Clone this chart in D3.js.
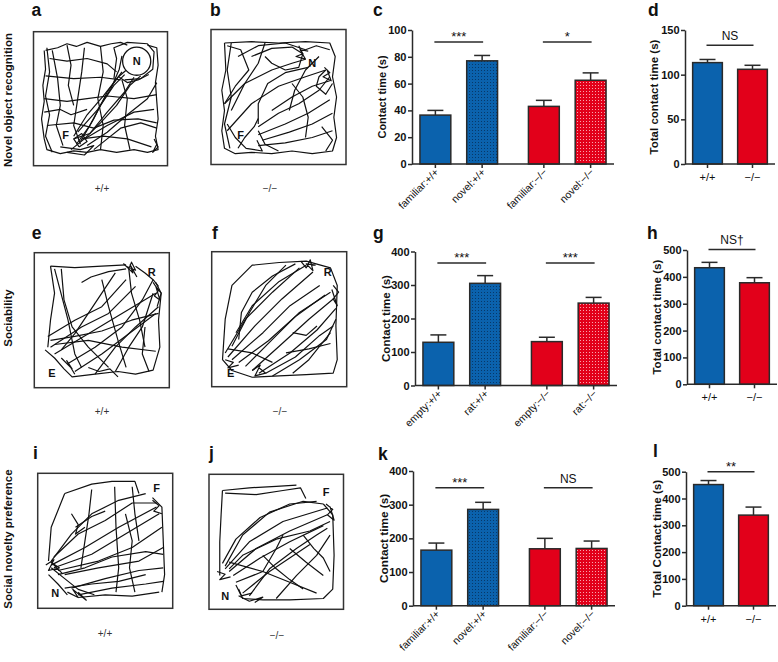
<!DOCTYPE html>
<html><head><meta charset="utf-8">
<script src="https://cdn.jsdelivr.net/npm/d3@7"></script>
<style>body{margin:0;background:#fff}svg{display:block;font-family:"Liberation Sans",Arial,sans-serif}</style>
</head><body><svg id="fig" width="778" height="662"></svg>
<script>
// ---------- DATA ----------
const norCats = ["familiar:+/+", "novel:+/+", "familiar:−/−", "novel:−/−"];
const norMeans = [36.5, 77, 43, 62.5];
const norSem = [3.5, 4, 4.5, 5.5];
const norTicks = [0, 20, 40, 60, 80, 100];
const norSig = [[0, 1, "***", 91], [2, 3, "*", 91]];

const norTotCats = ["+/+", "−/−"];
const norTotMeans = [113.5, 106];
const norTotSem = [3.5, 4.5];
const norTotTicks = [0, 50, 100, 150];
const norTotSig = [[0, 1, "NS", 133]];

const socCats = ["empty:+/+", "rat:+/+", "empty:−/−", "rat:−/−"];
const socMeans = [129, 305, 131, 246];
const socSem = [22, 23, 13, 17];
const socTicks = [0, 100, 200, 300, 400];
const socSig = [[0, 1, "***", 366], [2, 3, "***", 366]];

const socTotCats = ["+/+", "−/−"];
const socTotMeans = [434, 378];
const socTotSem = [20, 19];
const socTotTicks = [0, 100, 200, 300, 400, 500];
const socTotSig = [[0, 1, "NS†", 502]];

const snpCats = ["familiar:+/+", "novel:+/+", "familiar:−/−", "novel:−/−"];
const snpMeans = [165, 286, 169, 170];
const snpSem = [21, 21, 31, 22];
const snpTicks = [0, 100, 200, 300, 400];
const snpSig = [[0, 1, "***", 350], [2, 3, "NS", 350]];

const snpTotCats = ["+/+", "−/−"];
const snpTotMeans = [452, 338];
const snpTotSem = [15, 30];
const snpTotTicks = [0, 100, 200, 300, 400, 500];
const snpTotSig = [[0, 1, "**", 500]];

const rowLabels = ["Novel object recognition", "Sociability", "Social novelty preference"];
const genotypes = ["+/+", "−/−"];

// tracking traces (0-100 arena units)
const trackA = [
 [[9,14],[18,12],[25,9],[32,11],[40,8],[50,11],[58,9],[65,8],[70,10]],
 [[85,10],[92,12],[93,25],[91,38],[92,52],[93,65],[91,78],[93,88],[85,90],[75,88],[62,90],[50,88],[40,90],[30,89],[20,91],[10,88],[8,80],[6,65],[8,52],[7,40],[9,28],[8,14]],
 [[10,12],[12,30],[9,48],[12,62],[9,78],[14,90]],
 [[14,14],[18,35],[20,55],[17,70],[22,85]],
 [[9,33],[30,35],[50,34],[65,36]],
 [[8,50],[25,52],[40,50],[55,48],[75,50],[92,47]],
 [[10,70],[30,68],[45,72],[60,66],[78,65],[92,68]],
 [[35,82],[45,65],[55,45],[66,30]],
 [[32,84],[42,70],[50,55],[60,40],[68,32]],
 [[38,80],[50,68],[62,55],[72,40],[80,33]],
 [[30,78],[40,62],[52,48],[63,34],[70,28]],
 [[40,85],[55,75],[70,62],[85,50],[92,38]],
 [[36,80],[52,78],[70,80],[88,86]],
 [[33,75],[48,58],[58,42],[64,28],[66,18]],
 [[28,88],[38,80],[55,70],[75,60],[90,58]],
 [[20,86],[35,88],[45,85],[38,92],[25,90]],
 [[38,12],[36,30],[33,50],[30,70],[35,84]],
 [[60,35],[62,20],[60,12],[70,8],[85,9],[90,15],[89,28],[80,35],[68,36]],
 [[64,34],[70,38],[78,36],[86,32]],
 [[90,80],[93,86],[89,90],[92,84]],
 [[12,20],[25,22],[40,20],[55,24],[62,30]],
 [[8,60],[20,58],[28,62],[40,58]],
 [[45,88],[55,80],[65,72],[80,68],[92,72]],
 [[30,80],[42,76],[55,60],[68,45],[75,34]],
 [[25,10],[28,25],[26,40],[30,55]],
 [[50,11],[52,30],[48,50],[52,70],[50,88]],
 [[66,36],[70,50],[68,70],[72,88]],
 [[34,86],[30,80],[36,76],[40,82],[34,86]]
];
const trackB = [
 [[10,10],[30,9],[50,10],[70,9],[88,10],[92,20],[90,35],[93,50],[91,65],[93,80],[90,90],[75,92],[60,90],[45,92],[30,91],[18,92],[10,88],[8,75],[10,60],[8,45],[11,30],[10,10]],
 [[12,12],[22,15],[28,30],[18,42],[10,55]],
 [[30,20],[45,14],[60,13],[68,18],[65,28],[55,30],[45,25],[40,20]],
 [[10,55],[25,40],[45,30],[60,25],[70,22]],
 [[12,75],[30,55],[50,42],[70,35],[85,30]],
 [[35,72],[50,62],[65,55],[80,45],[88,35]],
 [[35,78],[55,70],[72,62],[88,52]],
 [[38,82],[58,76],[75,70],[90,62]],
 [[35,86],[55,84],[75,80],[90,75]],
 [[35,70],[35,55],[42,40],[55,32],[72,28]],
 [[20,20],[35,12],[55,10],[70,15],[78,12],[88,15]],
 [[85,30],[80,35],[78,42],[85,48],[90,40]],
 [[82,72],[90,82],[85,90]],
 [[65,12],[68,18],[63,20],[70,22],[66,15],[72,16]],
 [[84,28],[88,32],[83,35],[89,38],[86,30]],
 [[12,70],[18,80],[26,88],[38,90],[34,82]],
 [[15,10],[12,30],[15,50],[10,70],[14,88]],
 [[40,10],[35,25],[25,40],[15,60]],
 [[35,75],[40,85],[50,90]],
 [[60,40],[68,50],[72,65],[70,80]],
 [[80,20],[70,30],[62,45],[58,60]],
 [[45,60],[60,50],[75,42],[88,38]],
 [[20,88],[25,80],[32,72],[35,66]]
];
const trackE = [
 [[12,10],[30,11],[50,10],[68,9]],
 [[12,10],[15,30],[12,50],[10,70]],
 [[8,72],[15,78],[22,86],[28,92],[45,90],[62,88],[75,90],[88,87],[93,70],[92,50],[94,30],[90,22]],
 [[15,12],[25,50],[30,75],[35,85]],
 [[10,62],[30,50],[50,40],[68,20]],
 [[12,70],[35,55],[55,45],[75,25]],
 [[15,75],[40,60],[60,48],[90,30]],
 [[25,82],[45,70],[65,55],[80,35],[88,20]],
 [[30,88],[50,75],[70,60],[90,45]],
 [[45,90],[60,70],[75,55],[92,40]],
 [[60,88],[70,70],[80,55],[88,30]],
 [[15,68],[40,65],[65,70],[90,73]],
 [[50,20],[55,40],[62,65],[68,85]],
 [[35,22],[42,18],[55,14],[68,12]],
 [[66,8],[70,12],[72,7],[75,13],[68,10],[73,15],[71,9],[76,18]],
 [[88,22],[92,28],[89,32],[93,35],[90,25],[94,30],[91,40]],
 [[82,55],[80,75],[85,88]],
 [[20,78],[28,86],[24,80],[30,90]],
 [[20,12],[22,35],[28,55],[40,70],[55,85]],
 [[70,12],[72,30],[78,50],[82,70]],
 [[12,65],[30,62],[50,58],[72,50],[92,45]],
 [[60,15],[50,30],[40,45],[30,60],[20,72]],
 [[75,10],[82,15],[88,20],[92,25]],
 [[40,85],[48,88],[56,86],[62,92]]
];
const trackF = [
 [[8,80],[10,50],[15,25],[30,10],[50,8],[70,7],[88,12],[93,25],[92,55],[93,80],[90,90],[70,91],[50,92],[30,93],[15,88],[8,80]],
 [[10,75],[25,50],[45,30],[65,12]],
 [[12,78],[32,55],[52,35],[75,15]],
 [[15,80],[38,60],[58,40],[80,25]],
 [[25,85],[45,65],[65,45],[88,30]],
 [[30,88],[50,70],[72,50],[90,35]],
 [[35,90],[58,75],[78,58],[92,42]],
 [[45,92],[65,80],[85,65],[92,50]],
 [[15,70],[28,45],[40,25],[55,10]],
 [[20,65],[22,45],[30,30],[45,18],[62,9]],
 [[55,75],[72,72],[88,68]],
 [[66,7],[70,12],[73,6],[75,14],[70,9],[77,10]],
 [[90,25],[94,30],[90,35],[93,40],[89,28]],
 [[30,88],[36,84],[32,92],[40,90],[35,86]],
 [[10,80],[16,82],[12,86],[20,84]],
 [[18,60],[30,40],[50,22],[70,10]],
 [[20,82],[42,66],[62,48],[84,32]],
 [[40,90],[62,78],[80,62],[90,55]],
 [[12,72],[30,75],[45,82]],
 [[60,60],[70,62],[78,55]],
 [[88,60],[80,70],[72,80],[60,90]]
];
const trackI = [
 [[20,15],[40,8],[55,6],[72,6],[75,15]],
 [[85,18],[92,25],[93,50],[94,75],[92,88]],
 [[30,92],[50,90],[70,91],[90,88]],
 [[8,65],[10,40],[20,15]],
 [[10,68],[35,55],[60,40],[88,25]],
 [[12,70],[40,60],[65,45],[90,30]],
 [[15,72],[45,65],[70,55],[92,40]],
 [[20,75],[45,70],[75,65],[93,55]],
 [[25,85],[50,78],[75,72],[93,70]],
 [[30,90],[55,85],[80,82],[93,80]],
 [[10,65],[25,45],[40,30],[60,20],[80,15]],
 [[57,10],[58,40],[60,70],[58,88]],
 [[70,10],[72,30],[75,50]],
 [[25,30],[30,38],[28,45],[35,40]],
 [[6,68],[12,64],[8,72],[16,70],[10,66],[18,74]],
 [[22,88],[30,92],[26,86],[36,94],[30,88]],
 [[85,20],[90,24],[86,28],[92,30]],
 [[8,75],[15,82],[22,90]],
 [[12,62],[30,45],[50,35],[70,22],[88,22]],
 [[15,75],[35,70],[55,62],[80,58],[93,60]],
 [[40,12],[38,30],[35,50],[32,70]],
 [[20,85],[40,82],[60,80],[80,75]],
 [[65,30],[70,50],[68,70],[72,88]],
 [[10,70],[20,78],[30,86],[42,90]],
 [[28,40],[40,32],[50,28]]
];
const trackJ = [
 [[10,12],[30,10],[50,9],[65,8]],
 [[85,22],[92,30],[93,60],[92,85],[85,92],[60,93],[40,93],[25,92],[22,85]],
 [[8,75],[8,50],[9,30],[10,12]],
 [[12,68],[25,45],[45,28],[70,20],[85,22]],
 [[12,70],[30,50],[55,35],[88,25]],
 [[15,72],[35,55],[60,42],[88,30]],
 [[15,70],[25,60],[50,48],[75,42],[90,35]],
 [[20,80],[40,72],[50,55],[55,45]],
 [[30,90],[45,70],[65,55],[80,45],[88,40]],
 [[50,92],[65,75],[80,60],[90,45]],
 [[15,65],[40,72],[60,80],[80,88]],
 [[60,55],[72,65],[85,75]],
 [[12,14],[35,15],[55,12],[68,10],[72,18]],
 [[87,22],[92,26],[88,30],[93,34],[90,24]],
 [[6,72],[12,74],[8,78],[16,76]],
 [[22,90],[30,94],[40,91],[34,95]],
 [[10,66],[20,48],[38,32],[60,22],[80,20]],
 [[18,75],[38,62],[60,50],[85,38]],
 [[25,88],[35,80],[45,72],[60,62],[75,52]],
 [[40,60],[50,70],[60,78],[70,85]],
 [[70,45],[78,55],[85,62],[90,72]],
 [[20,82],[24,90],[32,88]]
];

// ---------- DRAW ----------
const svg = d3.select("#fig");
const BLUE = "#0b62ad", RED = "#e2001a", STROKE = "#2a2a2a";

const defs = svg.append("defs");
function dotPattern(id, bg, dot) {
  const p = defs.append("pattern").attr("id", id).attr("patternUnits", "userSpaceOnUse")
    .attr("width", 3).attr("height", 3);
  p.append("rect").attr("width", 3).attr("height", 3).attr("fill", bg);
  p.append("rect").attr("x", 1).attr("y", 1).attr("width", 1).attr("height", 1).attr("fill", dot);
}
dotPattern("dotBlue", BLUE, "#07396a");
dotPattern("dotRed", RED, "#f7a5ad");

function letter(t, x, y) {
  svg.append("text").attr("x", x).attr("y", y).attr("font-size", 17.5).attr("font-weight", "bold")
    .attr("fill", "#111").text(t);
}

function barPanel(o) {
  const n = o.cats.length;
  const pos = i => i + (n === 4 && i >= 2 ? 0.32 : 0);
  const xMax = n === 4 ? 3.82 : 1.5;
  const x = d3.scaleLinear().domain([-0.5, xMax]).range([o.ax, o.axEnd]);
  const y = d3.scaleLinear().domain([0, o.ticks[o.ticks.length - 1]]).range([o.y0, o.yTop]);
  const bw = (x(1) - x(0)) * 0.66;
  const g = svg.append("g");
  const isPlus = c => c.indexOf("+/+") >= 0;

  o.cats.forEach((c, i) => {
    const cx = x(pos(i));
    const top = y(o.means[i] + o.sem[i]);
    g.append("line").attr("x1", cx).attr("x2", cx).attr("y1", y(o.means[i])).attr("y2", top)
      .attr("stroke", STROKE).attr("stroke-width", 1.5);
    g.append("line").attr("x1", cx - 8).attr("x2", cx + 8).attr("y1", top).attr("y2", top)
      .attr("stroke", STROKE).attr("stroke-width", 1.5);
  });
  g.selectAll("rect.bar").data(o.cats).join("rect").attr("class", "bar")
    .attr("x", (c, i) => x(pos(i)) - bw / 2).attr("width", bw)
    .attr("y", (c, i) => y(o.means[i])).attr("height", (c, i) => o.y0 - y(o.means[i]))
    .attr("fill", (c, i) => {
      const pat = n === 4 && i % 2 === 1;
      if (isPlus(c)) return pat ? "url(#dotBlue)" : BLUE;
      return pat ? "url(#dotRed)" : RED;
    })
    .attr("stroke", STROKE).attr("stroke-width", 1.5);

  const ya = g.append("g").attr("transform", `translate(${o.ax},0)`)
    .call(d3.axisLeft(y).tickValues(o.ticks).tickSize(4).tickSizeOuter(0).tickPadding(1.5));
  ya.select(".domain").attr("stroke", STROKE).attr("stroke-width", 1.5);
  ya.selectAll(".tick line").attr("stroke", STROKE).attr("stroke-width", 1.5);
  ya.selectAll(".tick text").attr("font-size", 11).attr("font-weight", "bold").attr("fill", "#111")
    .attr("font-family", "'Liberation Sans',Arial,sans-serif");
  g.append("line").attr("x1", o.ax).attr("x2", o.axEnd).attr("y1", o.y0).attr("y2", o.y0)
    .attr("stroke", STROKE).attr("stroke-width", 1.5);
  o.cats.forEach((c, i) => {
    const cx = x(pos(i));
    g.append("line").attr("x1", cx).attr("x2", cx).attr("y1", o.y0).attr("y2", o.y0 + 4)
      .attr("stroke", STROKE).attr("stroke-width", 1.5);
    if (n === 4) {
      g.append("text").attr("transform", `translate(${cx + 4},${o.y0 + 9}) rotate(-45)`)
        .attr("text-anchor", "end").attr("font-size", 10.5).attr("fill", "#111").text(c);
    } else {
      g.append("text").attr("x", cx).attr("y", o.y0 + 17).attr("text-anchor", "middle")
        .attr("font-size", 11).attr("fill", "#111").text(c);
    }
  });
  o.sig.forEach(([a, b, lab, lev]) => {
    const ly = y(lev);
    g.append("line").attr("x1", x(pos(a)) - 1).attr("x2", x(pos(b)) + 1).attr("y1", ly).attr("y2", ly)
      .attr("stroke", STROKE).attr("stroke-width", 1.5);
    const star = lab.indexOf("*") >= 0;
    g.append("text").attr("x", (x(pos(a)) + x(pos(b))) / 2).attr("y", star ? ly - 1 : ly - 5)
      .attr("text-anchor", "middle").attr("font-size", star ? 13 : 12).attr("fill", "#111").text(lab);
  });
  g.append("text").attr("transform", `translate(${o.ax - o.titleOff},${(o.y0 + o.yTop) / 2}) rotate(-90)`)
    .attr("text-anchor", "middle").attr("dominant-baseline", "central")
    .attr("font-size", o.titleSize).attr("font-weight", "bold").attr("fill", "#111").text(o.title);
}

barPanel({cats: norCats, means: norMeans, sem: norSem, ticks: norTicks, sig: norSig,
  ax: 412, axEnd: 614, y0: 164, yTop: 30, title: "Contact time (s)", titleOff: 30, titleSize: 11});
barPanel({cats: norTotCats, means: norTotMeans, sem: norTotSem, ticks: norTotTicks, sig: norTotSig,
  ax: 685, axEnd: 775, y0: 164, yTop: 30, title: "Total contact time (s)", titleOff: 31, titleSize: 11.5});
barPanel({cats: socCats, means: socMeans, sem: socSem, ticks: socTicks, sig: socSig,
  ax: 415, axEnd: 617, y0: 385.5, yTop: 251.5, title: "Contact time (s)", titleOff: 29, titleSize: 11.5});
barPanel({cats: socTotCats, means: socTotMeans, sem: socTotSem, ticks: socTotTicks, sig: socTotSig,
  ax: 687, axEnd: 777, y0: 384.3, yTop: 250, title: "Total contact time (s)", titleOff: 30, titleSize: 11.5});
barPanel({cats: snpCats, means: snpMeans, sem: snpSem, ticks: snpTicks, sig: snpSig,
  ax: 413, axEnd: 615, y0: 605.7, yTop: 471, title: "Contact time (s)", titleOff: 29, titleSize: 11.8});
barPanel({cats: snpTotCats, means: snpTotMeans, sem: snpTotSem, ticks: snpTotTicks, sig: snpTotSig,
  ax: 686, axEnd: 776, y0: 605.7, yTop: 471.7, title: "Total Contact time (s)", titleOff: 30, titleSize: 11.6});

letter("c", 373, 15.5); letter("d", 648, 16);
letter("g", 373, 239); letter("h", 647, 239);
letter("k", 378, 460); letter("l", 653, 457);

function trackPanel(o) {
  const sx = d3.scaleLinear().domain([0, 100]).range([o.x, o.x + o.w]);
  const sy = d3.scaleLinear().domain([0, 100]).range([o.y, o.y + o.h]);
  const g = svg.append("g");
  g.append("rect").attr("x", o.x).attr("y", o.y).attr("width", o.w).attr("height", o.h)
    .attr("fill", "none").attr("stroke", "#333").attr("stroke-width", 1.5);
  const line = d3.line().x(d => sx(d[0])).y(d => sy(d[1])).curve(d3.curveLinear);
  g.selectAll("path.tr").data(o.tracks).join("path").attr("class", "tr").attr("d", line)
    .attr("fill", "none").attr("stroke", "#111").attr("stroke-width", 1.2).attr("stroke-linejoin", "round");
  if (o.circle) {
    g.append("circle").attr("cx", sx(o.circle[0])).attr("cy", sy(o.circle[1]))
      .attr("r", o.circle[2] * o.w / 100).attr("fill", "#fff").attr("stroke", "#111").attr("stroke-width", 1.3);
  }
  o.marks.forEach(([t, px, py]) => {
    g.append("text").attr("x", sx(px)).attr("y", sy(py)).attr("text-anchor", "middle")
      .attr("dominant-baseline", "central").attr("font-size", 11).attr("font-weight", "bold")
      .attr("fill", "#111").text(t);
  });
  g.append("text").attr("x", o.capX).attr("y", o.capY).attr("text-anchor", "middle")
    .attr("font-size", 10).attr("fill", "#333").text(o.cap);
  letter(o.letter, o.lx, o.ly);
}

trackPanel({x: 33.5, y: 31.7, w: 134, h: 134, tracks: trackA, circle: [77, 22, 10.5],
  marks: [["N", 77, 22], ["F", 24, 77]], cap: genotypes[0], capX: 102, capY: 192, letter: "a", lx: 31.5, ly: 16});
trackPanel({x: 211, y: 29.5, w: 135, h: 135, tracks: trackB,
  marks: [["N", 75, 25], ["F", 22, 78]], cap: genotypes[1], capX: 270, capY: 192, letter: "b", lx: 210, ly: 16});
trackPanel({x: 34.3, y: 252.7, w: 135, h: 135, tracks: trackE,
  marks: [["R", 87, 14], ["E", 13, 89]], cap: genotypes[0], capX: 102, capY: 415, letter: "e", lx: 31.7, ly: 239});
trackPanel({x: 211.7, y: 251.7, w: 135, h: 135, tracks: trackF,
  marks: [["R", 86, 15], ["E", 14, 90]], cap: genotypes[1], capX: 280, capY: 415, letter: "f", lx: 212, ly: 239});
trackPanel({x: 37.7, y: 473.3, w: 135, h: 135, tracks: trackI,
  marks: [["F", 88, 11], ["N", 13, 89]], cap: genotypes[0], capX: 105, capY: 637, letter: "i", lx: 33, ly: 459});
trackPanel({x: 209, y: 474.3, w: 134.5, h: 135, tracks: trackJ,
  marks: [["F", 87, 13], ["N", 12, 90]], cap: genotypes[1], capX: 277, capY: 639, letter: "j", lx: 209, ly: 459});

const rowY = [100, 318, 539];
rowLabels.forEach((t, i) => {
  svg.append("text").attr("transform", `translate(8,${rowY[i]}) rotate(-90)`)
    .attr("text-anchor", "middle").attr("dominant-baseline", "central")
    .attr("font-size", 11.5).attr("font-weight", "bold").attr("fill", "#111").text(t);
});
</script></body></html>
